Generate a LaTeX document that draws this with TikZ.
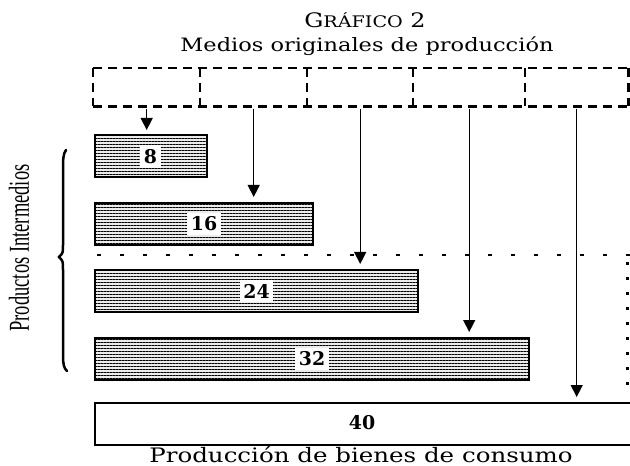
\documentclass[tikz,border=0pt]{standalone}
\usepackage{fontspec}
\setmainfont{DejaVu Serif}
\newfontfamily\timesf{Liberation Serif}
\usetikzlibrary{patterns.meta,arrows.meta}
\begin{document}
\begin{tikzpicture}[x=1bp,y=-1bp,
  medio/.style={rectangle,minimum height=38bp,inner sep=0pt,anchor=north west},
  barbase/.style={rectangle,draw=black,line width=2bp,anchor=north west,minimum height=42bp,inner sep=0pt},
  bar/.style={barbase,preaction={fill=gray!15},pattern={Lines[angle=0,distance=3bp,line width=1bp]}},
  num/.style={fill=white,inner xsep=3.5bp,inner ysep=4bp,font=\fontsize{19}{19}\selectfont\bfseries},
  dashbox/.style={line width=2.8bp,dash pattern=on 9bp off 6bp},
  flow/.style={line width=1.3bp,-{Triangle[width=12bp,length=12bp]},shorten >=5bp,shorten <=3bp},
  dotline/.style={line width=2.5bp,dash pattern=on 4bp off 19bp},
  vdotline/.style={line width=2.5bp,dash pattern=on 3bp off 12bp}]
\useasboundingbox (0,0) rectangle (630,466);
\clip (0,0) rectangle (630,466);
% titles
\node[anchor=base,inner sep=0pt] (t1) at (365,28) {\scalebox{1.2}[1]{\fontsize{20}{20}\selectfont G\fontsize{16}{16}\selectfont RÁFICO\fontsize{20}{20}\selectfont{} 2}};
\node[anchor=base,inner sep=0pt] (t2) at (367,52) {\scalebox{1.22}[1]{\fontsize{18.5}{18.5}\selectfont Medios originales de producción}};
\node[anchor=base,inner sep=0pt] (t3) at (361,462) {\scalebox{1.23}[1]{\fontsize{20}{20}\selectfont Producción de bienes de consumo}};
% original means boxes
\node[medio,minimum width=107bp] (m1) at (93,68) {};
\node[medio,minimum width=107bp] (m2) at (200,68) {};
\node[medio,minimum width=106bp] (m3) at (307,68) {};
\node[medio,minimum width=112bp] (m4) at (413,68) {};
\node[medio,minimum width=103bp] (m5) at (525,68) {};
\draw[dashbox] (m1.north west) -- (m5.north east);
\draw[dashbox] (m1.south west) -- (m5.south east);
\foreach \m in {m1,m2,m3,m4,m5}{
  \draw[dashbox] (\m.north west) -- (\m.south west);
}
\draw[dashbox] (m5.north east) -- (m5.south east);
% bars
\node[bar,minimum width=112bp] (b8) at (94,135) {};
\node[bar,minimum width=218bp] (b16) at (94,202) {};
\node[bar,minimum width=323bp] (b24) at (94,269) {};
\node[bar,minimum width=434bp] (b32) at (94,337) {};
\node[barbase,minimum width=560bp] (b40) at (94,402) {};
\node[num] (n8) at (b8.center) {8};
\node[num] (n16) at (b16.center) {16};
\node[num] (n24) at (b24.center) {24};
\node[num] (n32) at (b32.center) {32};
\node[num,fill=none] (n40) at (362,423) {40};
% dotted separators
\coordinate (d1) at (97,255);
\coordinate (d2) at (632,255);
\coordinate (d3) at (627.5,262);
\coordinate (d4) at (627.5,392);
\draw[dotline] (d1) -- (d2);
\draw[vdotline] (d3) -- (d4);
% arrows
\draw[flow] (m1.south) -- (m1.south |- b8.north);
\draw[flow] (m2.south) -- (m2.south |- b16.north);
\draw[flow] (m3.south) -- (m3.south |- b24.north);
\draw[flow] (m4.south) -- (m4.south |- b32.north);
\draw[flow] (m5.south) -- (m5.south |- b40.north);
% brace and side label
\coordinate (br1) at (66,150);
\coordinate (br2) at (59,257);
\coordinate (br3) at (67,371);
\draw[line width=2.5bp,line cap=round] (br1) .. controls (63,154) and (63,160) .. (63,170) -- (63,245) .. controls (63,253) .. (br2) .. controls (63,261) .. (63,270) -- (63,355) .. controls (63,365) and (64,368) .. (br3);
\node[rotate=90,inner sep=0pt] (pi) at (19,248) {\timesf\fontsize{29}{29}\selectfont\scalebox{0.64}[1]{Productos Intermedios}};
\end{tikzpicture}
\end{document}
